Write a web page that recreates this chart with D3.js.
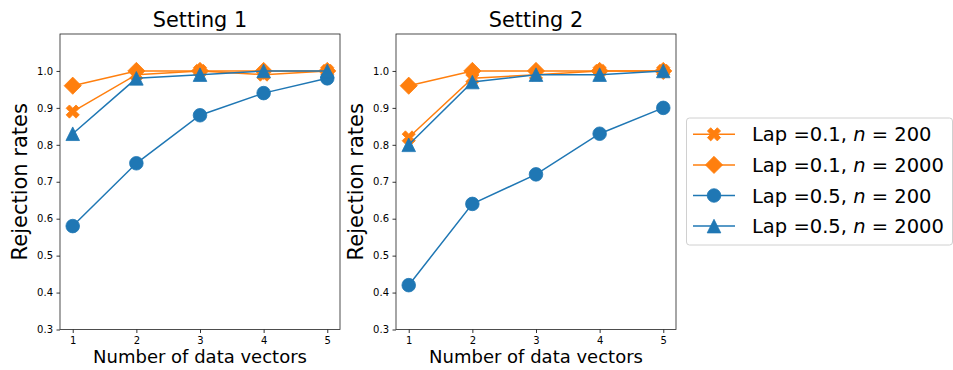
<!DOCTYPE html>
<html>
<head>
<meta charset="utf-8">
<script src="https://cdn.jsdelivr.net/npm/d3@7"></script>
<style>
  html, body { margin: 0; padding: 0; background: #fff; }
  svg { display: block; font-family: "DejaVu Sans", sans-serif; }
</style>
</head>
<body>
<svg id="chart" width="953" height="370"></svg>
<script>
// Number of data vectors on the x axis
const vectors = [1, 2, 3, 4, 5];
const yTicks = [0.3, 0.4, 0.5, 0.6, 0.7, 0.8, 0.9, 1.0];
const settings = ["Setting 1", "Setting 2"];

// Rejection rates, Setting 1
const s1_lap01_n200  = [0.89, 0.99, 1.00, 0.99, 1.00];
const s1_lap01_n2000 = [0.96, 1.00, 1.00, 1.00, 1.00];
const s1_lap05_n200  = [0.58, 0.75, 0.88, 0.94, 0.98];
const s1_lap05_n2000 = [0.83, 0.98, 0.99, 1.00, 1.00];

// Rejection rates, Setting 2
const s2_lap01_n200  = [0.82, 0.98, 0.99, 1.00, 1.00];
const s2_lap01_n2000 = [0.96, 1.00, 1.00, 1.00, 1.00];
const s2_lap05_n200  = [0.42, 0.64, 0.72, 0.83, 0.90];
const s2_lap05_n2000 = [0.80, 0.97, 0.99, 0.99, 1.00];

const seriesMeta = [
  { lap: "0.1", n: "200",  color: "#ff7f0e", marker: "x" },
  { lap: "0.1", n: "2000", color: "#ff7f0e", marker: "diamond" },
  { lap: "0.5", n: "200",  color: "#1f77b4", marker: "circle" },
  { lap: "0.5", n: "2000", color: "#1f77b4", marker: "triangle" }
];
const panelValues = [
  [s1_lap01_n200, s1_lap01_n2000, s1_lap05_n200, s1_lap05_n2000],
  [s2_lap01_n200, s2_lap01_n2000, s2_lap05_n200, s2_lap05_n2000]
];

// Marker outlines, centred on the origin
function markerPath(kind) {
  if (kind === "circle") {
    const r = 6.8;
    return `M${r},0A${r},${r} 0 1,1 ${-r},0A${r},${r} 0 1,1 ${r},0Z`;
  }
  if (kind === "diamond") {
    const h = 8.6;
    return `M0,${-h}L${h},0L0,${h}L${-h},0Z`;
  }
  if (kind === "triangle") {
    const h = 6.8;
    return `M0,${-h}L${h},${h}L${-h},${h}Z`;
  }
  // filled "X"
  const s = 6.6 / 2;
  const pts = [[-1,-2],[0,-1],[1,-2],[2,-1],[1,0],[2,1],[1,2],[0,1],[-1,2],[-2,1],[-1,0],[-2,-1]];
  return "M" + pts.map(p => `${p[0]*s},${p[1]*s}`).join("L") + "Z";
}

const svg = d3.select("#chart");

const panels = [
  { x0: 60,  x1: 340, ylabelX: 20 },
  { x0: 396, x1: 676, ylabelX: 356 }
];
const plotTop = 34, plotBottom = 329.5;

panels.forEach((p, i) => {
  const x = d3.scaleLinear().domain([0.8, 5.2]).range([p.x0, p.x1]);
  const y = d3.scaleLinear().domain([0.3, 1.1]).range([plotBottom, plotTop]);
  const g = svg.append("g");

  // x axis
  const xAxis = g.append("g")
    .attr("transform", `translate(0,${plotBottom})`)
    .call(d3.axisBottom(x).tickValues(vectors).tickFormat(d3.format("d")).tickSize(3.5).tickPadding(3.5));
  // y axis
  const yAxis = g.append("g")
    .attr("transform", `translate(${p.x0},0)`)
    .call(d3.axisLeft(y).tickValues(yTicks).tickFormat(d3.format(".1f")).tickSize(3.5).tickPadding(3.5));
  [xAxis, yAxis].forEach(a => {
    a.select(".domain").remove();
    a.selectAll(".tick line").attr("stroke", "#000").attr("stroke-width", 0.8);
    a.selectAll(".tick text").attr("font-family", "DejaVu Sans").attr("font-size", 10).attr("fill", "#000");
  });

  // data lines and markers, drawn in series order
  const line = d3.line().x((d, k) => x(vectors[k])).y(d => y(d));
  panelValues[i].forEach((vals, si) => {
    const m = seriesMeta[si];
    g.append("path")
      .attr("d", line(vals))
      .attr("fill", "none")
      .attr("stroke", m.color)
      .attr("stroke-width", 1.5);
    g.selectAll(null)
      .data(vals)
      .enter()
      .append("path")
      .attr("d", markerPath(m.marker))
      .attr("transform", (d, k) => `translate(${x(vectors[k])},${y(d)})`)
      .attr("fill", m.color)
      .attr("stroke", m.color)
      .attr("stroke-width", 0.8);
  });

  // frame
  g.append("rect")
    .attr("x", p.x0).attr("y", plotTop)
    .attr("width", p.x1 - p.x0).attr("height", plotBottom - plotTop)
    .attr("fill", "none")
    .attr("stroke", "#222")
    .attr("stroke-width", 0.8);

  // title
  g.append("text")
    .attr("x", (p.x0 + p.x1) / 2).attr("y", 27)
    .attr("text-anchor", "middle")
    .attr("font-size", 20.8)
    .text(settings[i]);

  // axis labels
  g.append("text")
    .attr("x", (p.x0 + p.x1) / 2).attr("y", 363)
    .attr("text-anchor", "middle")
    .attr("font-size", 18)
    .text("Number of data vectors");
  g.append("text")
    .attr("transform", `translate(${p.ylabelX + 7},${(plotTop + plotBottom) / 2}) rotate(-90)`)
    .attr("text-anchor", "middle")
    .attr("font-size", 21)
    .text("Rejection rates");
});

// legend
const lg = svg.append("g");
lg.append("rect")
  .attr("x", 686.5).attr("y", 118)
  .attr("width", 266).attr("height", 127)
  .attr("rx", 3)
  .attr("fill", "#fff")
  .attr("stroke", "#d0d0d0")
  .attr("stroke-width", 1);
seriesMeta.forEach((m, si) => {
  const cy = 134.3 + si * 30.6;
  lg.append("line")
    .attr("x1", 693).attr("x2", 735)
    .attr("y1", cy).attr("y2", cy)
    .attr("stroke", m.color).attr("stroke-width", 1.5);
  lg.append("path")
    .attr("d", markerPath(m.marker))
    .attr("transform", `translate(714,${cy})`)
    .attr("fill", m.color).attr("stroke", m.color).attr("stroke-width", 0.8);
  const t = lg.append("text")
    .attr("x", 752).attr("y", cy + 7)
    .attr("font-size", 19.5)
    .attr("fill", "#000");
  t.append("tspan").text(`Lap =${m.lap}, `);
  t.append("tspan").attr("font-style", "italic").text("n");
  t.append("tspan").text(` = ${m.n}`);
});
</script>
</body>
</html>
